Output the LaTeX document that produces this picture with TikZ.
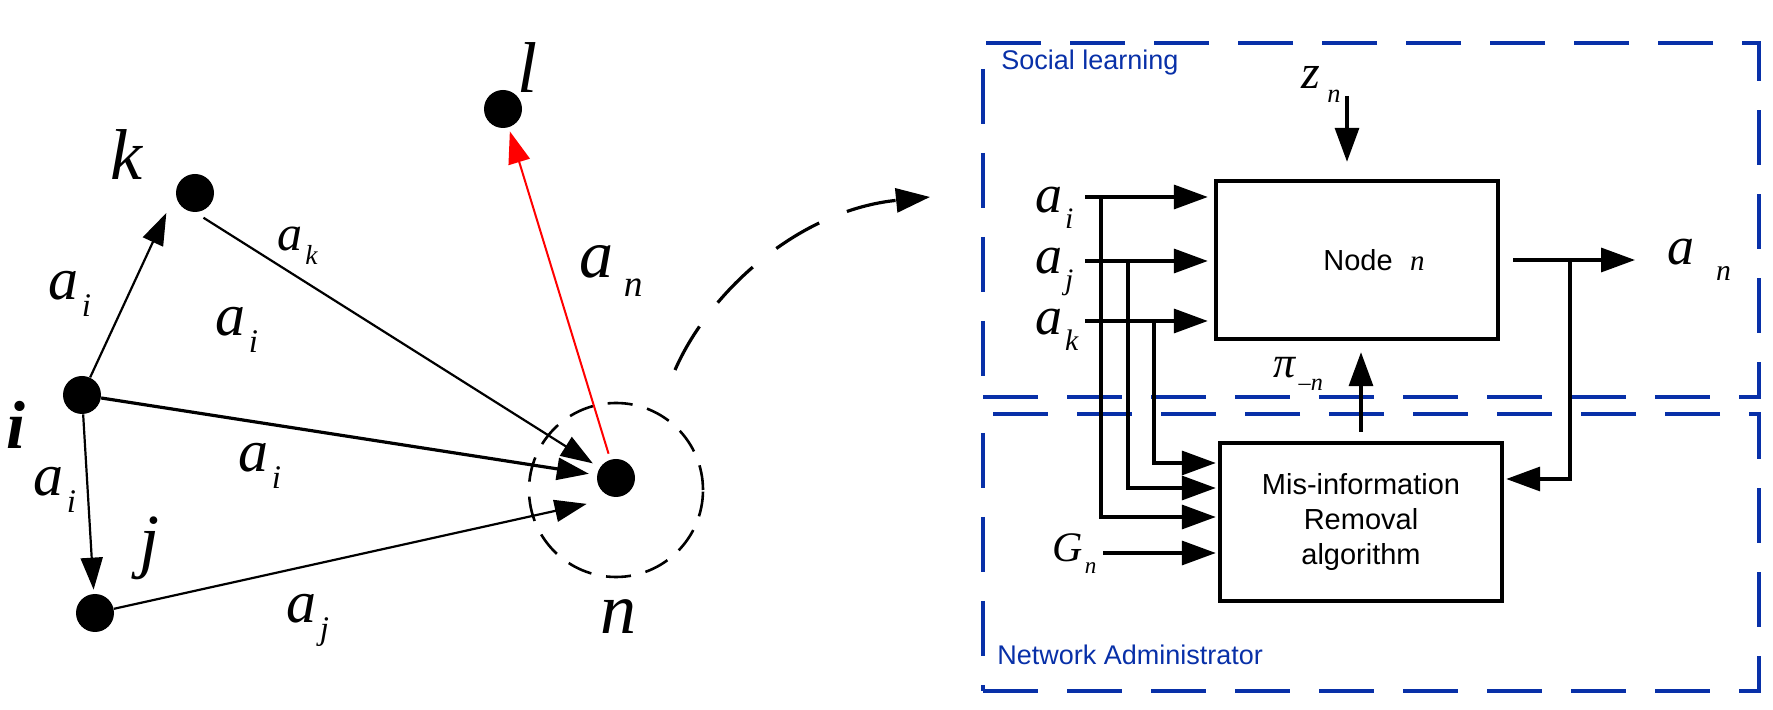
\documentclass[tikz,border=0pt]{standalone}
\usepackage{fontspec}
\setmainfont{Liberation Serif}
\setsansfont{Liberation Sans}
\usepackage{tikz}
\usetikzlibrary{positioning, arrows.meta, calc}
\usepackage{xcolor}
\definecolor{regionblue}{RGB}{8,48,168}
\newcommand{\vsub}[3][0.05em]{\textit{#2}\hspace{#1}\raisebox{-0.28em}{\scalebox{0.55}{\textit{#3}}}}

\begin{document}
\begin{tikzpicture}[x=0.5pt, y=-0.5pt,
    vertex/.style={circle, fill=black, inner sep=0pt, minimum size=19pt},
    vertexlab/.style={font=\fontsize{36}{36}\selectfont\itshape, inner sep=0pt},
    msg/.style={font=\fontsize{30}{30}\selectfont, inner sep=0pt},
    rmsg/.style={font=\fontsize{27}{27}\selectfont, inner sep=0pt, anchor=base west},
    link/.style={-{Triangle[length=16pt, width=11pt]}, line width=1.1pt},
    flow/.style={-{Triangle[length=17pt, width=12pt]}, line width=1.7pt},
    block/.style={draw, line width=2.2pt, minimum width=141pt, minimum height=79pt, inner sep=0pt, align=center, font=\sffamily\fontsize{14.5}{17.5}\selectfont},
    region/.style={draw=regionblue, line width=2pt, dash pattern=on 27.5pt off 14.5pt, minimum width=388pt, inner sep=0pt},
    regionlab/.style={text=regionblue, font=\sffamily\fontsize{13.5}{13.5}\selectfont, anchor=base west, inner sep=0pt}]
    \useasboundingbox (0,0) rectangle (1773,710);

    \node[vertex] (i) at (82,395) {};
    \node[vertex] (k) at (195,193) {};
    \node[vertex] (l) at (503,109) {};
    \node[vertex] (j) at (95,613) {};
    \node[vertex] (n) at (616,478) {};
    \node[circle, draw, dash pattern=on 12.5pt off 7.5pt, line width=1.3pt, minimum size=87pt, inner sep=0pt] (ring) at (616,490) {};

    \node[vertexlab] (klab) at (126,155) {k};
    \node[vertexlab] (llab) at (527,68) {l};
    \node[vertexlab, font=\fontsize{34}{34}\selectfont\bfseries\itshape] (ilab) at (16,425) {i};
    \node[vertexlab] (jlab) at (150,548) {j};
    \node[vertexlab] (nlab) at (618,617) {n};

    \draw[link, shorten >=11pt] (i) -- (k.west);
    \draw[link, shorten >=2pt] (i) -- (j);
    \draw[link, shorten <=5pt, shorten >=4pt] (k.south) -- (n);
    \draw[link, line width=1.6pt, shorten >=4pt] (i) -- (n);
    \draw[link, shorten >=15pt] (j) -- (n.south);
    \draw[link, red, line width=1pt, shorten <=3pt, shorten >=2pt] (n) -- (l);

    \node[msg] (ik) at (70,294) {\vsub{a}{i}};
    \node[msg, font=\fontsize{25}{25}\selectfont] (kn) at (298,246) {\vsub{a}{k}};
    \node[msg] (in1) at (237,330) {\vsub{a}{i}};
    \node[msg] (in2) at (260,466) {\vsub{a}{i}};
    \node[msg] (ij) at (55,490) {\vsub{a}{i}};
    \node[msg] (jn) at (308,620) {\vsub{a}{j}};
    \node[msg, font=\fontsize{34}{34}\selectfont] (nl) at (611,271) {\vsub[0.15em]{a}{n}};

    \coordinate (arcstart) at (675,370);
    \coordinate (arcend) at (930,197);
    \draw[line width=1.6pt, dash pattern=on 25pt off 15pt, -{Triangle[length=17pt, width=12pt]}]
        (arcstart) .. controls (710,290) and (800,210) .. (arcend);

    \node[region, minimum height=177pt] (social) at (1371,220) {};
    \node[region, minimum height=138.5pt] (admin) at (1371,552.5) {};
    \node[regionlab] (sociallab) at (1001,70) {Social learning};
    \node[regionlab] (adminlab) at (997,665) {Network Administrator};

    \node[block] (agent) at (1357,260) {\hspace*{17pt}Node\hspace{0.6em}{\rmfamily\itshape n}};
    \node[block] (removal) at (1361,522) {Mis-information\\Removal\\algorithm};

    \coordinate (ai) at (1085,197);
    \coordinate (aj) at (1085,261);
    \coordinate (ak) at (1085,321);
    \coordinate (tapi) at (1101,197);
    \coordinate (tapj) at (1128,261);
    \coordinate (tapk) at (1154,321);
    \coordinate (gn) at (1103,553);
    \coordinate (zn) at (1347,96);
    \coordinate (out) at (1635,260);
    \coordinate (tapn) at (1570,260);

    \node[rmsg] (lai) at (1035,213) {\vsub{a}{i}};
    \node[rmsg] (laj) at (1035,274) {\vsub{a}{j}};
    \node[rmsg] (lak) at (1035,335) {\vsub{a}{k}};
    \node[rmsg] (lan) at (1667,265) {\vsub[0.4em]{a}{n}};
    \node[rmsg, font=\fontsize{24}{24}\selectfont] (lzn) at (1301,89) {\vsub[0.15em]{z}{n}};
    \node[rmsg, font=\fontsize{22}{22}\selectfont] (lpi) at (1273,378) {\vsub{π}{--n}};
    \node[rmsg, font=\fontsize{21}{21}\selectfont] (lgn) at (1052,562) {\vsub{G}{n}};

    \draw[flow, shorten >=3pt] (ai) -- (ai -| agent.west);
    \draw[flow, shorten >=3pt] (aj) -- (aj -| agent.west);
    \draw[flow, shorten >=3pt] (ak) -- (ak -| agent.west);
    \draw[flow, shorten >=8.5pt] (zn) -- (zn |- agent.north);
    \draw[flow, shorten <=6.5pt] (agent.east) -- (out);
    \draw[flow, shorten <=4.5pt, shorten >=5.5pt] (removal.north) -- (removal.north |- agent.south);

    \draw[flow, shorten >=1pt] (tapk) |- ([yshift=29.5pt]removal.west);
    \draw[flow, shorten >=1pt] (tapj) |- ([yshift=17pt]removal.west);
    \draw[flow, shorten >=1pt] (tapi) |- ([yshift=2.5pt]removal.west);
    \draw[flow, shorten >=1pt] (gn) -- ([yshift=-15.5pt]removal.west);
    \draw[flow, shorten >=1pt] (tapn) |- ([yshift=21.5pt]removal.east);
\end{tikzpicture}
\end{document}
